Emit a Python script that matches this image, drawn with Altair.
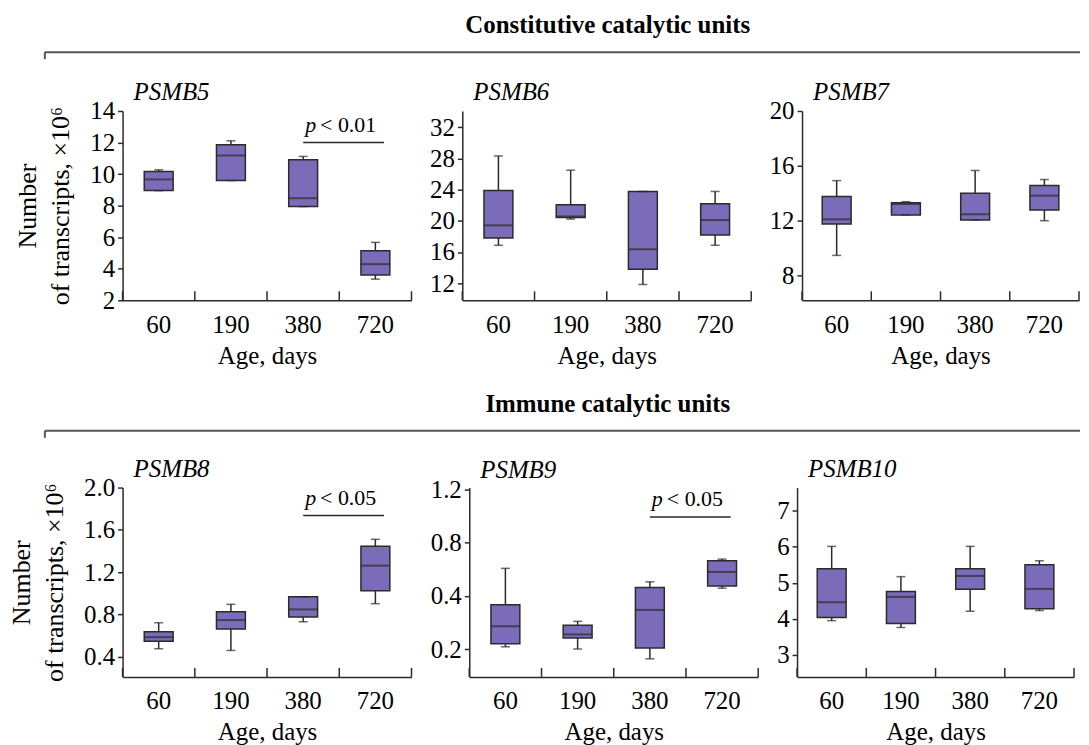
import altair as alt
import pandas as pd

AGES = ["60", "190", "380", "720"]

# box statistics (min, q1, median, q3, max) per age
PSMB5_MIN = [8.95, 9.59, 7.94, 3.34]
PSMB5_Q1 = [8.96, 9.59, 7.94, 3.60]
PSMB5_MED = [9.66, 11.18, 8.47, 4.29]
PSMB5_Q3 = [10.17, 11.86, 10.91, 5.14]
PSMB5_MAX = [10.27, 12.11, 11.12, 5.67]

PSMB6_MIN = [16.86, 20.23, 11.83, 16.86]
PSMB6_Q1 = [17.80, 20.44, 13.79, 18.18]
PSMB6_MED = [19.42, 20.57, 16.35, 20.10]
PSMB6_Q3 = [23.90, 22.06, 23.77, 22.20]
PSMB6_MAX = [28.33, 26.50, 23.77, 23.77]

PSMB7_MIN = [9.44, 12.40, 12.03, 11.98]
PSMB7_Q1 = [11.74, 12.40, 12.03, 12.76]
PSMB7_MED = [12.08, 13.20, 12.45, 13.81]
PSMB7_Q3 = [13.74, 13.30, 13.99, 14.55]
PSMB7_MAX = [14.91, 13.37, 15.65, 14.99]

PSMB8_MIN = [0.476, 0.460, 0.731, 0.902]
PSMB8_Q1 = [0.548, 0.662, 0.776, 1.025]
PSMB8_MED = [0.586, 0.747, 0.848, 1.262]
PSMB8_Q3 = [0.637, 0.826, 0.968, 1.445]
PSMB8_MAX = [0.722, 0.896, 0.968, 1.511]

PSMB9_MIN = [0.207, 0.201, 0.177, 0.443]
PSMB9_Q1 = [0.215, 0.232, 0.2035, 0.456]
PSMB9_MED = [0.270, 0.243, 0.334, 0.547]
PSMB9_Q3 = [0.357, 0.274, 0.447, 0.633]
PSMB9_MAX = [0.573, 0.288, 0.481, 0.646]

PSMB10_MIN = [3.95, 3.76, 4.21, 4.23]
PSMB10_Q1 = [4.04, 3.87, 4.82, 4.28]
PSMB10_MED = [4.46, 4.61, 5.19, 4.83]
PSMB10_Q3 = [5.39, 4.76, 5.39, 5.50]
PSMB10_MAX = [6.01, 5.17, 6.01, 5.61]

# y-axis ticks per panel
PSMB5_TICKS = [2, 4, 6, 8, 10, 12, 14]
PSMB6_TICKS = [12, 16, 20, 24, 28, 32]
PSMB7_TICKS = [8, 12, 16, 20]
PSMB8_TICKS = [0.4, 0.8, 1.2, 1.6, 2.0]
PSMB9_TICKS = [0.2, 0.4, 0.8, 1.6]
PSMB10_TICKS = [3, 4, 5, 6, 7]

# significance annotations: (from, to, level, label)
SIG_PSMB5 = ("380", "720", 12.0, "< 0.01")
SIG_PSMB8 = ("380", "720", 1.735, "< 0.05")
SIG_PSMB9 = ("380", "720", 1.116, "< 0.05")

SECTION_TITLES = ["Constitutive catalytic units", "Immune catalytic units"]
Y_TITLE = ["Number", "of transcripts, \u00d710\u2076"]
X_TITLE = "Age, days"

FONT = "Liberation Serif"
FILL = "#7a6cb8"
INK = "#2b2b2b"
H = 190


def panel(name, mn, q1, med, q3, mx, domain, ticks, width=290, log=False,
          ytitle=None, fmt=None, label_expr=None, sig=None, title_dy=31):
    df = pd.DataFrame({"age": AGES, "lo": mn, "q1": q1, "med": med, "q3": q3, "hi": mx})
    xs = alt.Scale(domain=AGES, paddingInner=0, paddingOuter=0)
    x_axis = alt.Axis(title=X_TITLE, ticks=False, labelAngle=0, labelFont=FONT,
                      labelFontSize=25, labelColor="black", labelPadding=12,
                      titleFont=FONT, titleFontSize=25, titleFontWeight="normal",
                      titleColor="black", titlePadding=6,
                      domainColor=INK, domainWidth=1.5)
    x = alt.X("age:N", sort=AGES, scale=xs, axis=x_axis)
    if log:
        ys = alt.Scale(type="log", base=2, domain=domain, nice=False)
    else:
        ys = alt.Scale(domain=domain, nice=False, zero=False)
    axkw = dict(values=ticks, grid=False, tickSize=5, tickColor=INK, tickWidth=1.5,
                domainColor=INK, domainWidth=1.5, labelFont=FONT, labelFontSize=25,
                labelColor="black", labelPadding=3, labelOverlap=False)
    if fmt:
        axkw["format"] = fmt
    if label_expr:
        axkw["labelExpr"] = label_expr
    if ytitle:
        axkw.update(title=ytitle, titleFont=FONT, titleFontSize=26,
                    titleFontWeight="normal", titleColor="black", titleLineHeight=33,
                    titlePadding=16)
    else:
        axkw["title"] = None
    y_axis = alt.Axis(**axkw)

    def Y(f):
        return alt.Y(f, scale=ys, axis=y_axis)

    base = alt.Chart(df)
    whisk = base.mark_rule(color=INK, strokeWidth=1.5).encode(
        x=x, y=Y("lo:Q"), y2="hi:Q")
    box = base.mark_bar(size=29, fill=FILL, stroke=INK, strokeWidth=1.5).encode(
        x=x, y=Y("q1:Q"), y2="q3:Q")
    medm = base.mark_tick(size=29, thickness=2, color=INK).encode(x=x, y=Y("med:Q"))
    caph = base.mark_tick(size=9, thickness=1.5, color=INK).encode(x=x, y=Y("hi:Q"))
    capl = base.mark_tick(size=9, thickness=1.5, color=INK).encode(x=x, y=Y("lo:Q"))
    xt1 = base.mark_rule(color=INK, strokeWidth=1.5).encode(
        x=alt.X("age:N", bandPosition=0, axis=x_axis), y=alt.value(H),
        y2=alt.value(H - 9))
    xt2 = base.transform_filter(alt.datum.age == AGES[-1]).mark_rule(
        color=INK, strokeWidth=1.5).encode(
        x=alt.X("age:N", bandPosition=1, axis=x_axis), y=alt.value(H),
        y2=alt.value(H - 9))
    layers = [whisk, box, medm, caph, capl, xt1, xt2]
    if sig:
        sdf = pd.DataFrame({"a": [sig[0]], "b": [sig[1]], "v": [sig[2]],
                            "p": ["p"], "t": [sig[3]]})
        sb = alt.Chart(sdf)
        xa = alt.X("a:N", bandPosition=0.5, axis=x_axis)
        line = sb.mark_rule(color=INK, strokeWidth=1.5).encode(
            x=xa, x2=alt.X2("b:N", bandPosition=0.62), y=Y("v:Q"))
        tp = sb.mark_text(font=FONT, fontSize=22, fontStyle="italic", align="left",
                          baseline="alphabetic", dx=2, dy=-11, color="black").encode(
            x=xa, y=Y("v:Q"), text="p:N")
        tt = sb.mark_text(font=FONT, fontSize=22, align="left",
                          baseline="alphabetic", dx=17, dy=-11, color="black").encode(
            x=xa, y=Y("v:Q"), text="t:N")
        layers += [line, tp, tt]
    return alt.layer(*layers).properties(
        width=width, height=H,
        title=alt.TitleParams(name, font=FONT, fontSize=25, fontStyle="italic",
                              fontWeight="normal", anchor="start", dx=11, dy=title_dy,
                              offset=0, frame="group", baseline="bottom",
                              color="black"))


def section(title):
    d = pd.DataFrame({"a": [0]})
    c = alt.Chart(d)
    hline = c.mark_rule(color="#555", strokeWidth=2).encode(
        x=alt.value(-78), x2=alt.value(961), y=alt.value(0))
    vtick = c.mark_rule(color="#555", strokeWidth=2).encode(
        x=alt.value(-78), y=alt.value(0), y2=alt.value(7))
    return alt.layer(hline, vtick).properties(
        width=950, height=7,
        title=alt.TitleParams(title, font=FONT, fontSize=25, fontWeight="bold",
                              anchor="middle", dx=12, dy=12, offset=0, frame="group",
                              baseline="bottom", color="black"))


p5 = panel("PSMB5", PSMB5_MIN, PSMB5_Q1, PSMB5_MED, PSMB5_Q3, PSMB5_MAX, [2, 14],
           PSMB5_TICKS, ytitle=Y_TITLE, sig=SIG_PSMB5)
p6 = panel("PSMB6", PSMB6_MIN, PSMB6_Q1, PSMB6_MED, PSMB6_Q3, PSMB6_MAX, [9.8, 34.1],
           PSMB6_TICKS, title_dy=19)
p7 = panel("PSMB7", PSMB7_MIN, PSMB7_Q1, PSMB7_MED, PSMB7_Q3, PSMB7_MAX, [6.16, 20],
           PSMB7_TICKS, width=278)
p8 = panel("PSMB8", PSMB8_MIN, PSMB8_Q1, PSMB8_MED, PSMB8_Q3, PSMB8_MAX, [0.21, 2.0],
           PSMB8_TICKS, ytitle=Y_TITLE, fmt=".1f", sig=SIG_PSMB8)
p9 = panel("PSMB9", PSMB9_MIN, PSMB9_Q1, PSMB9_MED, PSMB9_Q3, PSMB9_MAX, [0.14, 1.635],
           PSMB9_TICKS, log=True,
           label_expr="datum.value > 1 ? '1.2' : format(datum.value, '.1f')",
           sig=SIG_PSMB9)
p10 = panel("PSMB10", PSMB10_MIN, PSMB10_Q1, PSMB10_MED, PSMB10_Q3, PSMB10_MAX,
            [2.39, 7.64], PSMB10_TICKS, width=278, title_dy=19)


def row(a, b, c):
    inner = alt.hconcat(a, b, spacing=17).resolve_scale(
        x="independent", y="independent")
    return alt.hconcat(inner, c, spacing=17).resolve_scale(
        x="independent", y="independent")


top = alt.vconcat(section(SECTION_TITLES[0]), row(p5, p6, p7), spacing=20
                  ).resolve_scale(x="independent", y="independent")
bottom = alt.vconcat(section(SECTION_TITLES[1]), row(p8, p9, p10), spacing=18
                     ).resolve_scale(x="independent", y="independent")

chart = alt.vconcat(top, bottom, spacing=24).resolve_scale(
    x="independent", y="independent").properties(
    padding={"left": 0, "top": 4, "right": 0, "bottom": 0}
).configure_view(stroke="transparent", strokeWidth=0)

chart.save("out.html", embed_options={"renderer": "svg", "actions": False})
